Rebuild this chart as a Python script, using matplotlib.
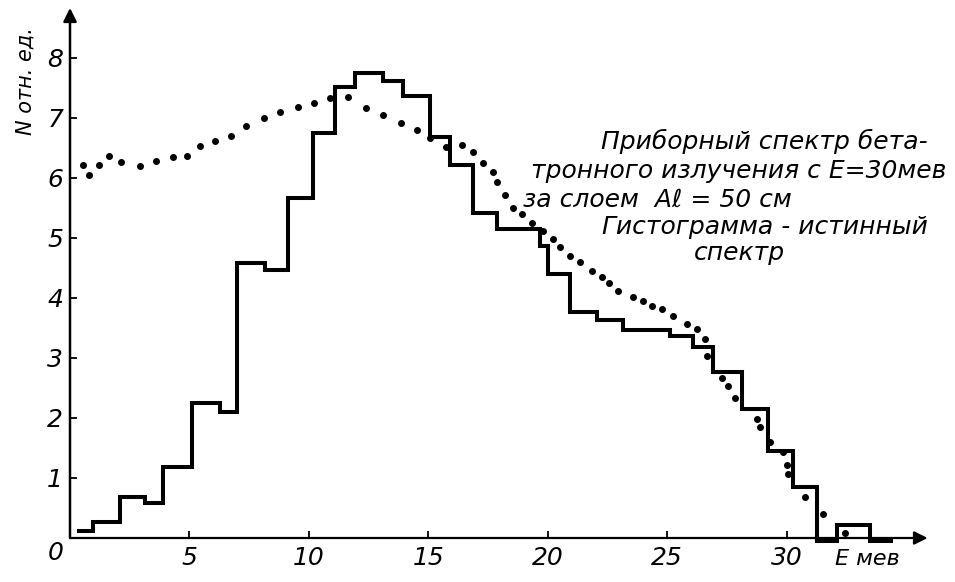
import matplotlib
matplotlib.use("Agg")
import matplotlib.pyplot as plt

# histogram (true spectrum): bin edges in MeV and heights in rel. units
hist_edges = [0.29, 0.96, 2.09, 3.14, 3.89, 5.10, 6.28, 6.99, 8.16, 9.12,
              10.17, 11.09, 11.92, 13.10, 13.93, 15.06, 15.90, 16.86, 17.87,
              19.67, 20.00, 20.92, 22.05, 23.14, 25.10, 26.07, 26.90, 28.12,
              29.21, 30.25, 31.26, 32.09, 33.47, 34.44]
hist_values = [0.12, 0.27, 0.68, 0.58, 1.18, 2.25, 2.10, 4.58, 4.47, 5.67,
               6.75, 7.52, 7.75, 7.62, 7.37, 6.68, 6.22, 5.42, 5.15, 4.87,
               4.40, 3.77, 3.63, 3.47, 3.37, 3.18, 2.77, 2.15, 1.45, 0.85,
               -0.05, 0.22, -0.05]

# instrument spectrum, dotted curve
dot_x = [0.54, 0.79, 1.21, 1.63, 2.13, 2.93, 3.60, 4.31, 4.90, 5.44, 6.07,
         6.74, 7.36, 8.12, 8.79, 9.54, 10.21, 10.88, 11.63, 12.38, 13.10,
         13.85, 14.52, 15.06, 15.73, 16.40, 16.86, 17.28, 17.70, 17.87,
         18.20, 18.54, 18.91, 19.33, 19.79, 20.21, 20.50, 20.92, 21.34,
         21.84, 22.26, 22.55, 22.93, 23.56, 23.97, 24.35, 24.77, 25.23,
         25.82, 26.23, 26.57, 26.65, 27.28, 27.53, 27.82, 28.74, 28.87,
         29.29, 29.83, 30.00, 30.04, 30.75, 31.51, 32.43]
dot_y = [6.22, 6.05, 6.21, 6.36, 6.26, 6.20, 6.28, 6.34, 6.36, 6.53, 6.61,
         6.70, 6.87, 6.99, 7.09, 7.18, 7.25, 7.33, 7.34, 7.16, 7.04, 6.91,
         6.80, 6.67, 6.51, 6.54, 6.43, 6.25, 6.10, 5.93, 5.72, 5.50, 5.39,
         5.24, 5.11, 4.98, 4.85, 4.70, 4.60, 4.45, 4.35, 4.24, 4.12, 4.01,
         3.94, 3.86, 3.82, 3.70, 3.57, 3.49, 3.32, 3.04, 2.66, 2.53, 2.33,
         1.98, 1.85, 1.60, 1.44, 1.22, 1.06, 0.69, 0.40, 0.08]

x_ticks = [5, 10, 15, 20, 25, 30]
y_ticks = [1, 2, 3, 4, 5, 6, 7, 8]

note_lines = ["Приборный спектр бета-",
              "тронного излучения с E=30мев",
              "за слоем  Aℓ = 50 см",
              "Гистограмма - истинный",
              "спектр"]

fig = plt.figure(figsize=(9.55, 5.82), dpi=100)
ax = fig.add_axes([0.0733, 0.0756, 0.898, 0.9107])
ax.set_xlim(0, 35.9)
ax.set_ylim(0, 8.83)

for s in ax.spines.values():
    s.set_visible(False)

# axes with arrows
ax.annotate("", xy=(1, 0), xytext=(0, 0), xycoords="axes fraction",
            arrowprops=dict(arrowstyle="-|>", lw=1.6, color="black",
                            mutation_scale=20, shrinkA=0, shrinkB=0))
ax.annotate("", xy=(0, 1), xytext=(0, 0), xycoords="axes fraction",
            arrowprops=dict(arrowstyle="-|>", lw=1.8, color="black",
                            mutation_scale=20, shrinkA=0, shrinkB=0))

ax.stairs(hist_values, hist_edges, baseline=None, color="black",
          linewidth=2.9, clip_on=False)
ax.plot(dot_x, dot_y, "o", color="black", markersize=4, linestyle="none")

tick_font = dict(family="DejaVu Sans", style="italic", size=18)
ax.set_xticks(x_ticks)
ax.set_xticklabels([str(t) for t in x_ticks], **tick_font)
ax.set_yticks(y_ticks)
ax.set_yticklabels([str(t) for t in y_ticks], **tick_font)
ax.tick_params(direction="in", length=5, width=1.3, color="black")
ax.tick_params(axis="x", pad=6)
ax.tick_params(axis="y", pad=5)

ax.text(-0.6, -0.25, "0", ha="center", va="center", **tick_font)
ax.text(33.4, -0.35, "E мев", ha="center", va="center",
        family="DejaVu Sans", style="italic", size=16)
fig.text(0.027, 0.86, "N отн. ед.", rotation=90, ha="center", va="center",
         family="DejaVu Sans", style="italic", size=15)

note_font = dict(family="DejaVu Sans", style="italic", size=18)
ax.text(29.08, 6.60, note_lines[0], ha="center", va="center", **note_font)
ax.text(28.0, 6.11, note_lines[1], ha="center", va="center", **note_font)
ax.text(18.95, 5.64, note_lines[2], ha="left", va="center", **note_font)
ax.text(29.08, 5.18, note_lines[3], ha="center", va="center", **note_font)
ax.text(28.03, 4.75, note_lines[4], ha="center", va="center", **note_font)

fig.savefig("out.png", dpi=100)
